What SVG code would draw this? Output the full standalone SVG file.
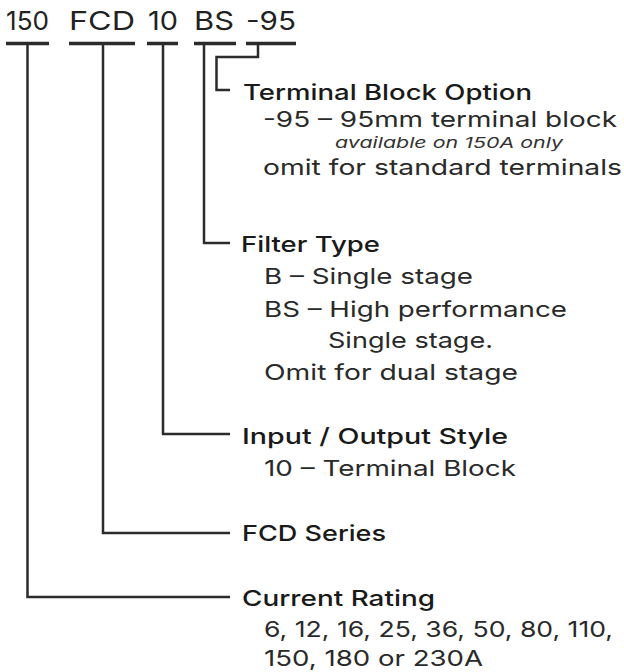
<svg xmlns="http://www.w3.org/2000/svg" width="624" height="672" viewBox="0 0 624 672">
<style>
.code{font-family:Inter,"Noto Sans","Liberation Sans",sans-serif;font-size:26px;fill:#222}
.head{font-family:Inter,"Noto Sans","Liberation Sans",sans-serif;font-size:22px;font-weight:500;fill:#1a1a1a}
.body{font-family:Inter,"Noto Sans","Liberation Sans",sans-serif;font-size:22px;fill:#2a2a2a}
.note{font-family:Inter,"Noto Sans","Liberation Sans",sans-serif;font-size:15px;font-style:italic;fill:#333}
.ln{fill:none;stroke:#2b2b2b;stroke-width:2.5;stroke-linecap:butt;stroke-linejoin:miter}
.ul{fill:none;stroke:#2b2b2b;stroke-width:3.5}
</style>
<rect width="624" height="672" fill="#ffffff"/>
<g id="code">
<text class="code" x="6" y="30" textLength="43" lengthAdjust="spacingAndGlyphs">150</text>
<text class="code" x="69" y="30" textLength="66" lengthAdjust="spacingAndGlyphs">FCD</text>
<text class="code" x="148" y="30" textLength="30" lengthAdjust="spacingAndGlyphs">10</text>
<text class="code" x="194" y="30" textLength="40" lengthAdjust="spacingAndGlyphs">BS</text>
<text class="code" x="246" y="30" textLength="50" lengthAdjust="spacingAndGlyphs">-95</text>
</g>
<g id="connectors">
<path class="ul" d="M6 43.5H49M69 43.5H135M147 43.5H178M194 43.5H236M246 43.5H296"/>
<path class="ln" d="M27.5 43.5V597H230"/>
<path class="ln" d="M103 43.5V533H230"/>
<path class="ln" d="M163 43.5V434H230"/>
<path class="ln" d="M204 43.5V243H230"/>
<path class="ln" d="M258 43.5V57H216.5V90H230"/>
</g>
<g id="terminal-block-option">
<text class="head" x="243" y="100" textLength="289" lengthAdjust="spacingAndGlyphs">Terminal Block Option</text>
<text class="body" x="263" y="127" textLength="354" lengthAdjust="spacingAndGlyphs">-95 – 95mm terminal block</text>
<text class="note" x="335" y="148" textLength="228" lengthAdjust="spacingAndGlyphs">available on 150A only</text>
<text class="body" x="263" y="175" textLength="359" lengthAdjust="spacingAndGlyphs">omit for standard terminals</text>
</g>
<g id="filter-type">
<text class="head" x="241" y="252" textLength="139" lengthAdjust="spacingAndGlyphs">Filter Type</text>
<text class="body" x="264" y="284" textLength="209" lengthAdjust="spacingAndGlyphs">B – Single stage</text>
<text class="body" x="264" y="317" textLength="303" lengthAdjust="spacingAndGlyphs">BS – High performance</text>
<text class="body" x="328" y="348" textLength="165" lengthAdjust="spacingAndGlyphs">Single stage.</text>
<text class="body" x="264" y="380" textLength="254" lengthAdjust="spacingAndGlyphs">Omit for dual stage</text>
</g>
<g id="io-style">
<text class="head" x="242" y="444" textLength="266" lengthAdjust="spacingAndGlyphs">Input / Output Style</text>
<text class="body" x="264" y="476" textLength="252" lengthAdjust="spacingAndGlyphs">10 – Terminal Block</text>
</g>
<g id="fcd-series">
<text class="head" x="242" y="541" textLength="144" lengthAdjust="spacingAndGlyphs">FCD Series</text>
</g>
<g id="current-rating">
<text class="head" x="242" y="606" textLength="193" lengthAdjust="spacingAndGlyphs">Current Rating</text>
<text class="body" x="264" y="637" textLength="349" lengthAdjust="spacingAndGlyphs">6, 12, 16, 25, 36, 50, 80, 110,</text>
<text class="body" x="264" y="666" textLength="219" lengthAdjust="spacingAndGlyphs">150, 180 or 230A</text>
</g>
</svg>
